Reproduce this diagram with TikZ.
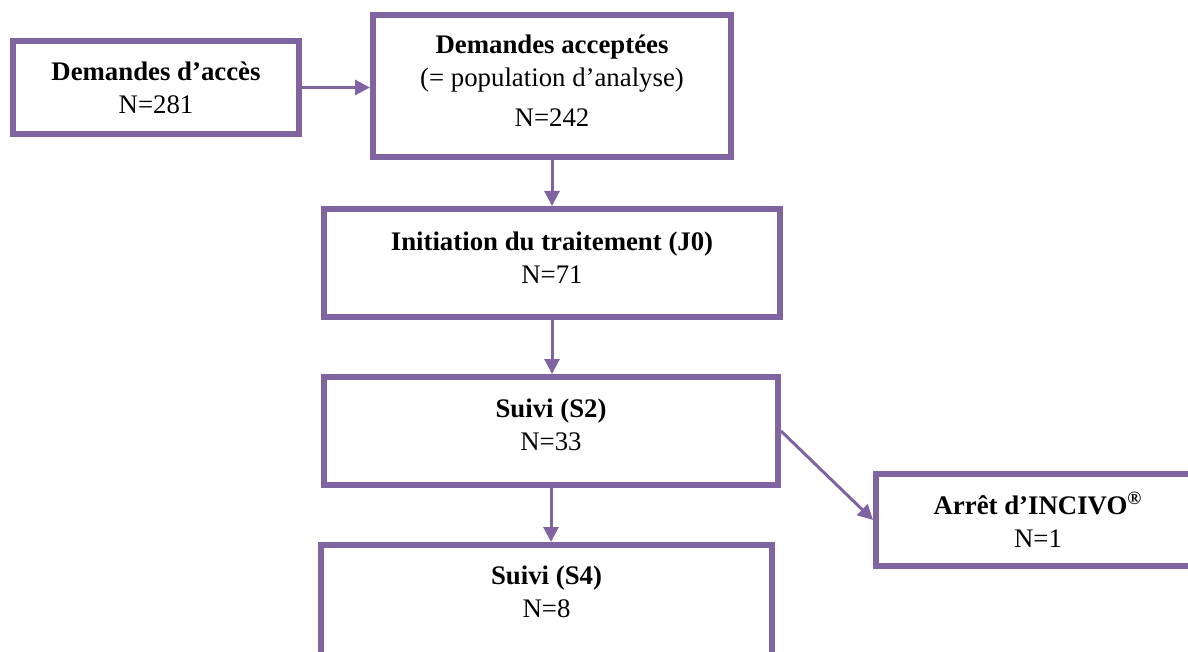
\documentclass[tikz,border=0pt]{standalone}
\usepackage{fontspec}
\setmainfont{Liberation Serif}
\usetikzlibrary{arrows.meta}
\definecolor{boxpurple}{HTML}{8064A2}

\begin{document}
\begin{tikzpicture}[x=0.5pt,y=-0.5pt,
   box/.style={draw=boxpurple,line width=3pt,inner sep=0pt},
   txt/.style={align=center,inner sep=0pt,font=\fontsize{13.4}{16.5}\selectfont},
   fleche/.style={draw=boxpurple,line width=1.5pt,-{Triangle[length=7.5pt,width=7.5pt]}}]

   \useasboundingbox (0,0) rectangle (1188,652);

   % boxes
   \node[box,minimum width=143pt,minimum height=46.5pt] (acces) at (156,87.5) {};
   \node[box,minimum width=179pt,minimum height=71pt] (accept) at (552,86) {};
   \node[box,minimum width=228pt,minimum height=54pt] (init) at (552,263) {};
   \node[box,minimum width=227pt,minimum height=54pt] (suiviA) at (551,431) {};
   \node[box,minimum width=225.5pt,minimum height=57.5pt] (suiviB) at (546.5,602.5) {};
   \node[box,minimum width=162pt,minimum height=46pt] (arret) at (1038,520) {};

   % texts
   \node[txt] (acces-t) at (156,87.5) {\textbf{Demandes d’accès}\\N=281};
   \node[txt] (accept-t) at (552,80.5) {\textbf{Demandes acceptées}\\(= population d’analyse)\\[3.5pt]N=242};
   \node[txt] (init-t) at (552,257.5) {\textbf{Initiation du traitement (J0)}\\N=71};
   \node[txt] (suiviA-t) at (551,424.5) {\textbf{Suivi (S2)}\\N=33};
   \node[txt] (suiviB-t) at (546.5,591.5) {\textbf{Suivi (S4)}\\N=8};
   \node[txt] (arret-t) at (1038,520) {\textbf{Arrêt d’INCIVO\textsuperscript{®}}\\N=1};

   % arrows
   \draw[fleche] (acces.east) -- (acces.east -| accept.west);
   \draw[fleche] (accept.south) -- (init.north);
   \draw[fleche] (init.south) -- (init.south |- suiviA.north);
   \draw[fleche] (suiviA.south) -- (suiviA.south |- suiviB.north);
   \draw[fleche] (suiviA.east) -- (arret.west);

\end{tikzpicture}
\end{document}
